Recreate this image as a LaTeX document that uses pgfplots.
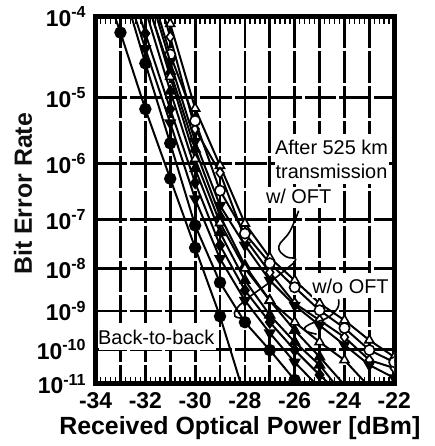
\documentclass[border=0pt]{standalone}
\usepackage{fontspec}
\setmainfont{Liberation Sans}
\usepackage{graphicx}
\usepackage{pgfplots}
\pgfplotsset{compat=1.18}

\definecolor{ink}{rgb}{0.06,0.06,0.06}
\newcommand\tickfont{\fontsize{11.5}{13}\selectfont\bfseries}
\newcommand\labfont{\fontsize{12.5}{14}\selectfont\bfseries}
\newcommand\notefont{\fontsize{10}{11}\selectfont}

\begin{document}
\begin{tikzpicture}
\begin{axis}[
  at={(0pt,0pt)}, anchor=south west,
  scale only axis, width=150pt, height=184.5pt,
  xmin=-34, xmax=-22, ymin=4, ymax=11,
  % BER axis: position follows ln(-log10 BER), values given as n = -log10 BER
  y coord trafo/.code={\pgfmathparse{ln(#1)}},
  y coord inv trafo/.code={\pgfmathparse{exp(#1)}},
  y dir=reverse,
  xtick={-34,-33,...,-22},
  xticklabels={-34,,-32,,-30,,-28,,-26,,-24,,-22},
  ytick={4,5,...,11},
  yticklabels={10\textsuperscript{-4},10\textsuperscript{-5},10\textsuperscript{-6},10\textsuperscript{-7},10\textsuperscript{-8},10\textsuperscript{-9},10\textsuperscript{-10},10\textsuperscript{-11}},
  minor x tick num=4,
  tick align=inside,
  major tick length=0pt,
  minor tick length=3.5pt,
  every minor tick/.style={black, line width=0.8pt},
  grid=major,
  major grid style={black, line width=1.4pt, dash pattern=on 16pt off 1.5pt},
  axis line style={line width=2.5pt},
  xticklabel style={font=\tickfont, yshift=-1pt},
  yticklabel style={font=\tickfont, xshift=-1pt},
  xlabel={Received Optical Power [dBm]},
  every axis x label/.style={at={(axis description cs:0.483,0)}, anchor=center, yshift=-22pt, font=\labfont},
  clip marker paths=true,
  every axis plot/.append style={black, line width=1pt, mark size=2.6pt},
  filled/.style={mark options={solid, fill=black}},
  hollow/.style={mark options={solid, fill=white, line width=0.8pt}},
]

% back-to-back
\addplot[filled, mark=*] coordinates {
  (-33.5,3.79) (-33,4.18) (-32,5.16) (-31,6.25) (-30,7.56) (-29,9.13) (-28,11.40)};

% after 525 km, with OFT
\addplot[filled, mark=triangle*] coordinates {
  (-32,3.92) (-31,4.91) (-30,6.08) (-29,7.25) (-28,8.27) (-27,9.10) (-26,9.80) (-25,10.44) (-24,11.37)};
\addplot[filled, mark=diamond*] coordinates {
  (-33,3.39) (-32,4.19) (-31,5.16) (-30,6.32) (-29,7.51) (-28,8.50) (-27,9.28) (-26,10.02) (-25,10.73) (-24,11.43)};
\addplot[filled, mark=triangle*, mark options={rotate=180}] coordinates {
  (-33,3.54) (-32,4.37) (-31,5.36) (-30,6.61) (-29,7.79) (-28,8.74) (-27,9.56) (-26,10.36) (-25,11.12)};
\addplot[filled, mark=*] coordinates {
  (-33,3.61) (-32,4.55) (-31,5.67) (-30,7.11) (-29,8.32) (-28,9.28) (-27,10.02) (-26,10.88) (-25,11.75)};
\addplot[filled, mark=triangle*] coordinates {
  (-32,3.79) (-31,4.65) (-30,5.76) (-29,6.92) (-28,7.94) (-27,8.74) (-26,9.49) (-25,10.21) (-24,11.03)};

% after 525 km, without OFT
\addplot[hollow, mark=triangle*] coordinates {
  (-32,3.26) (-31,4.08) (-30,5.15) (-29,6.03) (-28,7.07) (-27,7.77) (-26,8.27) (-25,8.81) (-24,9.23) (-23,9.75) (-22,10.21)};
\addplot[hollow, mark=diamond*] coordinates {
  (-32,3.35) (-31,4.23) (-30,5.45) (-29,6.15) (-28,7.37) (-27,8.09) (-26,8.81) (-25,9.23) (-24,9.67) (-23,10.30) (-22,10.53)};
\addplot[hollow, mark=*] coordinates {
  (-32,3.54) (-31,4.44) (-30,5.33) (-29,6.46) (-28,7.27) (-27,7.89) (-26,8.43) (-25,8.98) (-24,9.43) (-23,10.02) (-22,10.36)};
\addplot[hollow, mark=triangle*, mark options={rotate=180}] coordinates {
  (-32,3.61) (-31,4.53) (-30,5.64) (-29,6.73) (-28,7.51) (-27,8.27) (-26,8.86) (-25,9.36) (-24,9.88) (-23,10.44) (-22,10.82)};
\addplot[hollow, mark=triangle*] coordinates {
  (-32,3.76) (-31,4.72) (-30,5.92) (-29,7.06) (-28,8.00) (-27,8.74) (-26,9.28) (-25,9.80) (-24,10.30) (-23,11.09) (-22.5,11.49)};

\end{axis}

% axis title on the left, in page coordinates
\node[font=\labfont, text=ink, inner sep=0pt] at (-36.5pt,95.5pt) {\rotatebox{90}{Bit Error Rate}};

% annotations, placed in a 0.5pt grid measured from the page's top-left corner
\begin{scope}[x=0.5pt, y=-0.5pt, shift={(-48pt,192pt)}]
  \fill[white] (276,133) rectangle (391,183);
  \node[font=\notefont, inner sep=0pt] at (333,146) {After 525 km};
  \node[font=\notefont, inner sep=0pt] at (333,170) {transmission};
  \fill[white] (268,186) rectangle (333,207);
  \node[font=\notefont, inner sep=0pt] at (300,196) {w/ OFT};
  \fill[white] (313,273) rectangle (391,298);
  \node[font=\notefont, inner sep=0pt] at (352,286) {w/o OFT};
  \fill[white] (99,323) rectangle (217,350);
  \node[font=\notefont, inner sep=0pt] at (157,337) {Back-to-back};
  \draw[line width=0.8pt] plot[smooth, tension=0.7] coordinates {
    (300,210) (291,231) (280,246) (287,256) (297,259) (286,270) (268,284)
    (250,297) (238,308) (236,316) (245,318)};
  \draw[line width=0.8pt] plot[smooth, tension=0.7] coordinates {
    (340,299) (339,308) (328,318) (311,324) (306,330) (318,334)};
\end{scope}

% page extent
\path (-48pt,-31pt) rectangle (170pt,192pt);
\end{tikzpicture}
\end{document}
